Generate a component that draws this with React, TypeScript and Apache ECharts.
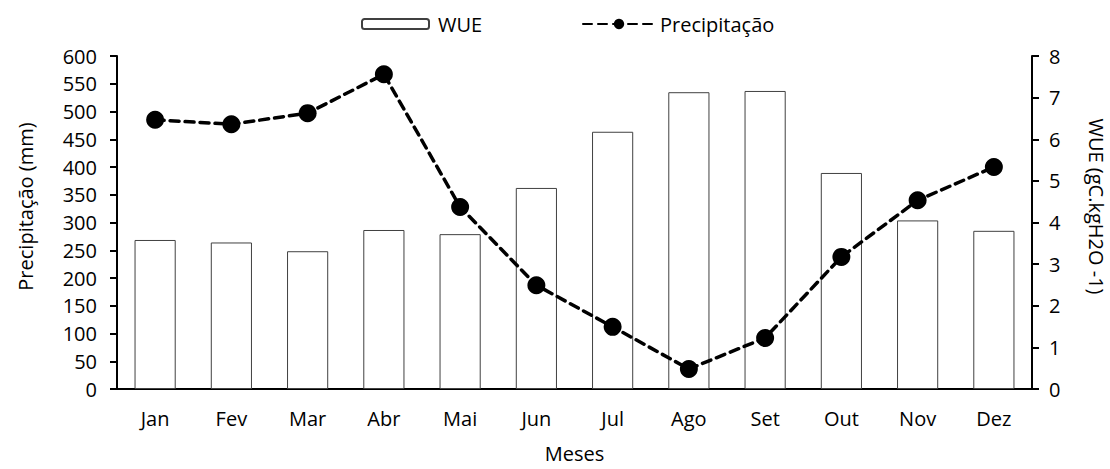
import React, { useEffect, useRef } from "react";
import * as echarts from "echarts";

const months = ["Jan", "Fev", "Mar", "Abr", "Mai", "Jun", "Jul", "Ago", "Set", "Out", "Nov", "Dez"];
const wue = [3.58, 3.52, 3.31, 3.82, 3.72, 4.83, 6.18, 7.13, 7.16, 5.19, 4.05, 3.8];
const precipitacao = [485, 477, 497, 567, 328, 187, 112, 36, 92, 238, 340, 400];

const FONT = "'Open Sans', 'Noto Sans', sans-serif";
const FS = 20;

export default function App() {
  const ref = useRef<HTMLDivElement>(null);
  useEffect(() => {
    document.body.style.margin = "0";
    const chart = echarts.init(ref.current!, null, { renderer: "svg" });
    chart.setOption({
      animation: false,
      backgroundColor: "#fff",
      textStyle: { fontFamily: FONT, color: "#000" },
      grid: { left: 117, right: 78, top: 56, bottom: 80, containLabel: false, outerBoundsMode: "none" },
      legend: [
        {
          data: ["WUE"],
          left: 356,
          top: 9,
          itemWidth: 67,
          itemHeight: 10,
          textStyle: { fontFamily: FONT, fontSize: FS, color: "#000", padding: [0, 0, 0, 4] },
        },
        {
          data: ["Precipitação"],
          left: 577,
          top: 9,
          itemWidth: 72,
          itemHeight: 13,
          textStyle: { fontFamily: FONT, fontSize: FS, color: "#000" },
        },
      ],
      xAxis: {
        type: "category",
        data: months,
        name: "Meses",
        nameLocation: "middle",
        nameGap: 54,
        nameTextStyle: { fontFamily: FONT, fontSize: FS, color: "#000" },
        axisLine: { lineStyle: { color: "#000", width: 2 } },
        axisTick: { show: false },
        axisLabel: { fontFamily: FONT, fontSize: FS, color: "#000", margin: 19 },
        splitLine: { show: false },
      },
      yAxis: [
        {
          type: "value",
          min: 0,
          max: 600,
          interval: 50,
          name: "Precipitação (mm)",
          nameLocation: "middle",
          nameGap: 82,
          nameTextStyle: { fontFamily: FONT, fontSize: FS, color: "#000", padding: [0, 0, 0, 32] },
          axisLine: { show: true, lineStyle: { color: "#000", width: 2 } },
          axisTick: { show: true, length: 7, lineStyle: { color: "#000", width: 2 } },
          axisLabel: { fontFamily: FONT, fontSize: FS, color: "#000", margin: 20 },
          splitLine: { show: false },
        },
        {
          type: "value",
          min: 0,
          max: 8,
          interval: 1,
          position: "right",
          name: "WUE (gC.kgH2O -1)",
          nameLocation: "middle",
          nameRotate: -90,
          nameGap: 54,
          nameTextStyle: { fontFamily: FONT, fontSize: FS, color: "#000", padding: [0, 32, 0, 0] },
          axisLine: { show: true, lineStyle: { color: "#000", width: 2 } },
          axisTick: { show: true, length: 7, lineStyle: { color: "#000", width: 2 } },
          axisLabel: { fontFamily: FONT, fontSize: FS, color: "#000", margin: 17 },
          splitLine: { show: false },
        },
      ],
      series: [
        {
          name: "WUE",
          type: "bar",
          yAxisIndex: 1,
          data: wue,
          barWidth: "54%",
          itemStyle: { color: "#fff", borderColor: "#404040", borderWidth: 1 },
          z: 2,
        },
        {
          name: "Precipitação",
          type: "line",
          yAxisIndex: 0,
          data: precipitacao,
          symbol: "circle",
          symbolSize: 18,
          itemStyle: { color: "#000" },
          lineStyle: { color: "#000", width: 3.5, type: [9, 6], cap: "round" },
          z: 3,
        },
      ],
    });
    return () => chart.dispose();
  }, []);
  return <div ref={ref} style={{ width: 1110, height: 469 }} />;
}
